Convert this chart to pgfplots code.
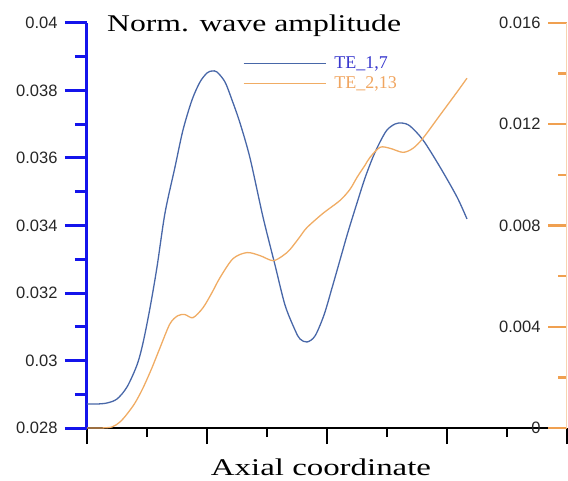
\documentclass[border=0pt]{standalone}
\usepackage{fontspec}
\setmainfont{Liberation Serif}
\newfontfamily\ticksfont{Liberation Sans}
\newfontfamily\titlefont{Liberation Serif}[FakeStretch=1.32]
\newfontfamily\xlabfont{Liberation Serif}[FakeStretch=1.37]
\usepackage{pgfplots}
\pgfplotsset{compat=1.18}
\definecolor{axisblue}{RGB}{20,20,235}
\definecolor{curveblue}{RGB}{72,103,168}
\definecolor{curveorange}{RGB}{240,172,100}
\definecolor{legblue}{RGB}{55,55,205}
\definecolor{legorange}{RGB}{240,165,95}
\definecolor{tickorange}{RGB}{240,160,80}
\pgfplotsset{base/.style={at={(0pt,0pt)}, anchor=south west, scale only axis,
  width=480pt, height=405pt, xmin=0, xmax=8}}
\begin{document}
\begin{tikzpicture}
\useasboundingbox (-87pt,-52pt) rectangle (481pt,428pt);
% bottom x axis
\begin{axis}[base, ymin=0, ymax=1,
  axis y line=none, axis x line*=bottom,
  x axis line style={draw=black, line width=2.6pt, -},
  xtick={0,2,4,6,8}, minor xtick={1,3,5,7}, xticklabels={},
  tick align=outside, major tick length=16pt, minor tick length=9pt,
  tick style={draw=black, line width=2.6pt}]
\end{axis}
% left axis
\begin{axis}[base, ymin=0.028, ymax=0.04,
  axis x line=none, axis y line*=left,
  y axis line style={draw=axisblue, line width=3pt, -},
  scaled y ticks=false,
  ytick={0.028,0.030,0.032,0.034,0.036,0.038,0.040},
  yticklabels={0.028,0.03,0.032,0.034,0.036,0.038,0.04},
  minor ytick={0.029,0.031,0.033,0.035,0.037,0.039},
  tick align=outside, major tick length=22pt, minor tick length=12pt,
  tick style={draw=axisblue, line width=3pt},
  yticklabel style={font=\ticksfont\fontsize{16.5}{18}\selectfont, text=black!85, xshift=-4pt}]
\end{axis}
% left-scale data, legend, texts
\begin{axis}[base, ymin=0.028, ymax=0.04, hide axis, clip=false,
  legend style={at={(rel axis cs:0.3246,0.9235)}, anchor=north west, draw=none, fill=none,
    inner sep=0pt, row sep=1pt,
    font=\fontsize{18}{20}\selectfont,
    nodes={text height=13pt, text depth=4pt, inner sep=1pt},
    /tikz/every odd column/.append style={column sep=7pt}},
  legend cell align=left,
  legend image code/.code={\draw[#1] (0pt,0pt) -- (82pt,0pt);}]
\addplot[smooth, color=curveblue, line width=1.3pt] coordinates {
(0,0.028711) (0.1667,0.028711) (0.3333,0.028741) (0.5,0.028859) (0.6667,0.029215)
(0.8333,0.029867) (0.9333,0.030519) (1.05,0.031556) (1.1667,0.032770) (1.3,0.034370)
(1.4667,0.035733) (1.6,0.036830) (1.75,0.037719) (1.8833,0.038252) (2.0,0.038519)
(2.0833,0.038578) (2.1667,0.038548) (2.3,0.038252) (2.4167,0.037719) (2.55,0.037037)
(2.7167,0.036000) (2.9333,0.034252) (3.1333,0.032830) (3.3,0.031644) (3.4667,0.030904)
(3.55,0.030637) (3.6667,0.030548) (3.8,0.030726) (3.95,0.031348) (4.0833,0.032148)
(4.2167,0.032978) (4.35,0.033807) (4.5,0.034667) (4.6333,0.035407) (4.7667,0.036030)
(4.8833,0.036474) (5.0,0.036830) (5.1333,0.037007) (5.25,0.037037) (5.3833,0.036948)
(5.6,0.036533) (5.8833,0.035733) (6.1667,0.034844) (6.3333,0.034193)};
\addlegendentry{\textcolor{legblue}{TE\_1,7}}
\addlegendimage{color=curveorange, line width=1.3pt}
\addlegendentry{\textcolor{legorange}{TE\_2,13}}
\node[anchor=base west, inner sep=0pt, font=\titlefont\fontsize{24}{28}\selectfont]
  at (rel axis cs:0.0417,0.9778) {Norm. wave amplitude};
\node[anchor=base, inner sep=0pt, font=\xlabfont\fontsize{24}{28}\selectfont]
  at (rel axis cs:0.4875,-0.1185) {Axial coordinate};
\end{axis}
% right axis
\begin{axis}[base, ymin=0, ymax=0.016,
  axis x line=none, axis y line*=right,
  y axis line style={draw=tickorange!45, line width=1pt, -},
  scaled y ticks=false,
  ytick={0,0.004,0.008,0.012,0.016},
  yticklabels={0,0.004,0.008,0.012,0.016},
  minor ytick={0.002,0.006,0.010,0.014},
  tick align=inside, major tick length=19pt, minor tick length=9pt,
  tick style={draw=tickorange, line width=2.5pt},
  yticklabel style={font=\ticksfont\fontsize{16.5}{18}\selectfont, text=black!85, anchor=east, xshift=-23pt},
  clip=false]
\addplot[smooth, color=curveorange, line width=1.3pt] coordinates {
(0,0) (0.2167,0) (0.4167,0.00004) (0.55,0.00024) (0.6667,0.00055) (0.8,0.00099)
(0.9333,0.00158) (1.0833,0.00238) (1.2167,0.00317) (1.3833,0.00412) (1.5167,0.00444)
(1.6333,0.00448) (1.7667,0.00436) (1.9333,0.00475) (2.0833,0.00535) (2.2167,0.00594)
(2.4333,0.00669) (2.6667,0.00693) (2.8833,0.00681) (3.1,0.00661) (3.2667,0.00681)
(3.3833,0.00705) (3.55,0.00756) (3.6667,0.00792) (3.9333,0.00848) (4.2167,0.00899)
(4.3833,0.00943) (4.5,0.00990) (4.6333,0.01038) (4.7167,0.01069) (4.8833,0.01109)
(5.05,0.01105) (5.2667,0.01089) (5.4333,0.01105) (5.6,0.01145) (5.8833,0.01236)
(6.1667,0.01327) (6.3333,0.01382)};
\end{axis}
\end{tikzpicture}
\end{document}
